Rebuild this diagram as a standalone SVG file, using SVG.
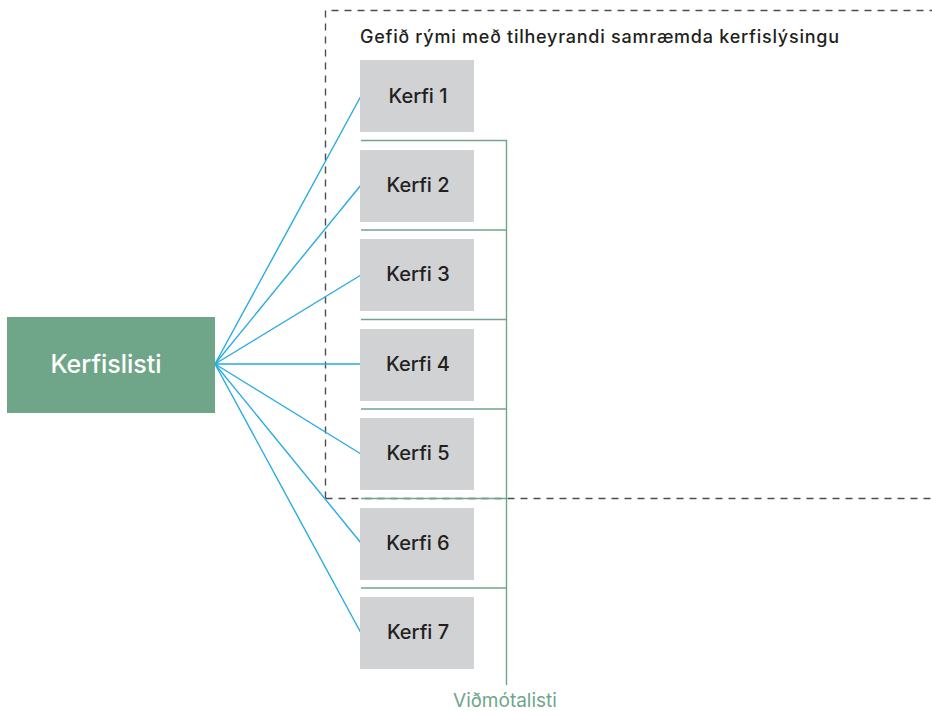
<svg xmlns="http://www.w3.org/2000/svg" width="932" height="711" viewBox="0 0 932 711">
  <style>
    .kerfi rect { fill: #d1d2d4; }
    .kerfi text { font-family: Inter, "Noto Sans", "Liberation Sans", sans-serif; font-size: 20px; font-weight: 500; fill: #231f20; text-anchor: middle; }
    .link { stroke: #29abe2; stroke-width: 1.4; fill: none; }
    .iface { stroke: #6fa68a; stroke-width: 1.4; fill: none; }
    .label { font-family: Inter, "Noto Sans", "Liberation Sans", sans-serif; }
  </style>
  <rect width="932" height="711" fill="#ffffff"/>

  <!-- shared-description region -->
  <g id="region">
    <path d="M325.5 498.5 V10.5 H932 M325.5 498.5 H932" stroke="#4d4d4d" stroke-width="1.4" stroke-dasharray="7 6" fill="none"/>
    <text class="label" x="360" y="43" font-size="18" font-weight="500" fill="#231f20" textLength="479" lengthAdjust="spacing">Gefið rými með tilheyrandi samræmda kerfislýsingu</text>
  </g>

  <!-- connectors -->
  <g id="connectors">
    <g id="links">
      <line class="link" x1="215" y1="364" x2="361" y2="96"/>
      <line class="link" x1="215" y1="364" x2="361" y2="185"/>
      <line class="link" x1="215" y1="364" x2="361" y2="275"/>
      <line class="link" x1="215" y1="364" x2="361" y2="364"/>
      <line class="link" x1="215" y1="364" x2="361" y2="454"/>
      <line class="link" x1="215" y1="364" x2="361" y2="543"/>
      <line class="link" x1="215" y1="364" x2="361" y2="633"/>
    </g>
    <g id="interfaces">
      <path class="iface" d="M361 140.5 H506.5 V685"/>
      <path class="iface" d="M361 230 H506.5"/>
      <path class="iface" d="M361 319.5 H506.5"/>
      <path class="iface" d="M361 409 H506.5"/>
      <path class="iface" d="M361 498.5 H506.5"/>
      <path class="iface" d="M361 588 H506.5"/>
    </g>
  </g>

  <g id="kerfislisti">
    <rect x="7" y="317" width="208" height="96" fill="#6fa68a"/>
    <text class="label" x="106" y="373" font-size="25" font-weight="500" fill="#ffffff" text-anchor="middle">Kerfislisti</text>
  </g>

  <g id="kerfi1" class="kerfi"><rect x="360" y="60" width="114" height="72"/><text x="418" y="103">Kerfi 1</text></g>
  <g id="kerfi2" class="kerfi"><rect x="360" y="150" width="114" height="72"/><text x="418" y="192">Kerfi 2</text></g>
  <g id="kerfi3" class="kerfi"><rect x="360" y="239" width="114" height="72"/><text x="418" y="281">Kerfi 3</text></g>
  <g id="kerfi4" class="kerfi"><rect x="360" y="329" width="114" height="72"/><text x="418" y="371">Kerfi 4</text></g>
  <g id="kerfi5" class="kerfi"><rect x="360" y="418" width="114" height="72"/><text x="418" y="460">Kerfi 5</text></g>
  <g id="kerfi6" class="kerfi"><rect x="360" y="508" width="114" height="72"/><text x="418" y="550">Kerfi 6</text></g>
  <g id="kerfi7" class="kerfi"><rect x="360" y="597" width="114" height="72"/><text x="418" y="639">Kerfi 7</text></g>

  <g id="vidmotalisti">
    <text class="label" x="505" y="707" font-size="19" fill="#6fa68a" text-anchor="middle">Viðmótalisti</text>
  </g>
</svg>
